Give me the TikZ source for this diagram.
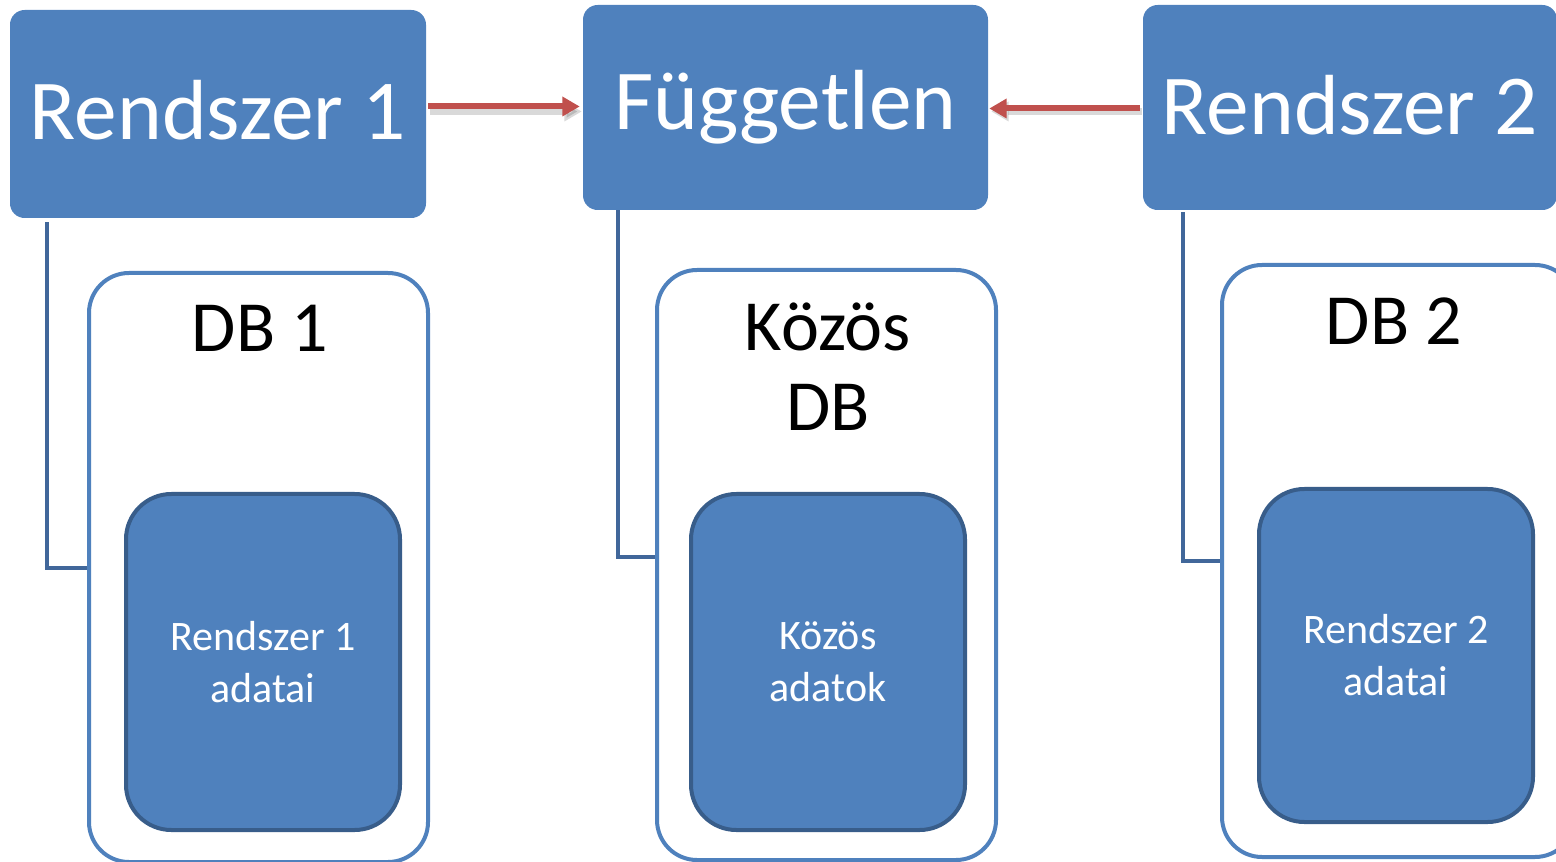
\documentclass[tikz,border=0pt]{standalone}
\usepackage{fontspec}
\setmainfont{Carlito}
\usetikzlibrary{arrows.meta,calc}
\definecolor{accent}{HTML}{4F81BD}
\definecolor{accentdark}{HTML}{385D8A}
\definecolor{linkblue}{HTML}{41679A}
\definecolor{arrowred}{HTML}{C0504D}
\begin{document}
\begin{tikzpicture}[x=0.75pt,y=-0.75pt,
  topbox/.style={rectangle, rounded corners=11pt, fill=accent, text=white,
    font=\fontsize{64}{70}\selectfont, inner sep=0pt},
  container/.style={rectangle, rounded corners=30pt, draw=accent, line width=3pt,
    fill=white, inner sep=0pt, minimum width=254.25pt},
  innerbox/.style={rectangle, rounded corners=34pt, draw=accentdark, line width=3pt,
    fill=accent, text=white, align=center, font=\fontsize{31.5}{39}\selectfont,
    inner sep=0pt, minimum width=205.5pt},
  titletext/.style={align=center, font=\fontsize{54}{60}\selectfont, text=black, inner sep=0pt},
  conn/.style={draw=linkblue, line width=3pt},
  arr/.style={draw=arrowred, line width=4.5pt, -{Triangle[length=13pt,width=14pt]}},
  arrshadow/.style={draw=black, opacity=0.15, line width=5pt, -{Triangle[length=13pt,width=14pt]}}]
\useasboundingbox (0,0) rectangle (1556,862);

% top boxes
\node[topbox, minimum width=312pt, minimum height=156pt, text depth=6pt] (r1) at (218,114) {Rendszer 1};
\node[topbox, minimum width=303.75pt, minimum height=153.75pt] (fug) at (785.5,107.5) {Független};
\node[topbox, minimum width=310.5pt, minimum height=153.75pt, text depth=4pt] (r2) at (1350,107.5) {Rendszer 2};

% containers
\node[container, minimum height=441.75pt] (db1) at (258.5,567.5) {};
\node[container, minimum height=442.5pt] (db0) at (826.5,565) {};
\node[container, minimum width=264.75pt, minimum height=444pt] (db2) at (1398.5,561) {};

% titles
\node[titletext, anchor=base] (t1) at (260,352) {DB 1};
\node[titletext, anchor=north] (t0) at (828,303) {Közös\\DB};
\node[titletext, anchor=base] (t2) at (1394,345) {DB 2};

% inner boxes
\node[innerbox, minimum height=252pt] (i1) at (263,662) {Rendszer 1\\adatai};
\node[innerbox, minimum height=252pt] (i0) at (828,662) {Közös\\adatok};
\node[innerbox, minimum height=249.75pt] (i2) at (1396,655.5) {Rendszer 2\\adatai};

% connectors
\draw[conn] ($(r1.south west)+(37,4)$) |- (db1.west);
\draw[conn] ($(fug.south west)+(35,0)$) |- ($(db0.west)+(0,-8)$);
\draw[conn] ($(r2.south west)+(40,2)$) |- (db2.west);

% arrows
\draw[arrshadow] ($(r1.east |- fug.west)+(4,4)$) -- ($(fug.west)+(-1,4)$);
\draw[arr] ($(r1.east |- fug.west)+(2,-1)$) -- ($(fug.west)+(-3,-1)$);
\draw[arrshadow] ($(r2.west)+(-1,4)$) -- ($(fug.east)+(3,4)$);
\draw[arr] ($(r2.west)+(-3,1)$) -- ($(fug.east)+(1,1)$);
\end{tikzpicture}
\end{document}
